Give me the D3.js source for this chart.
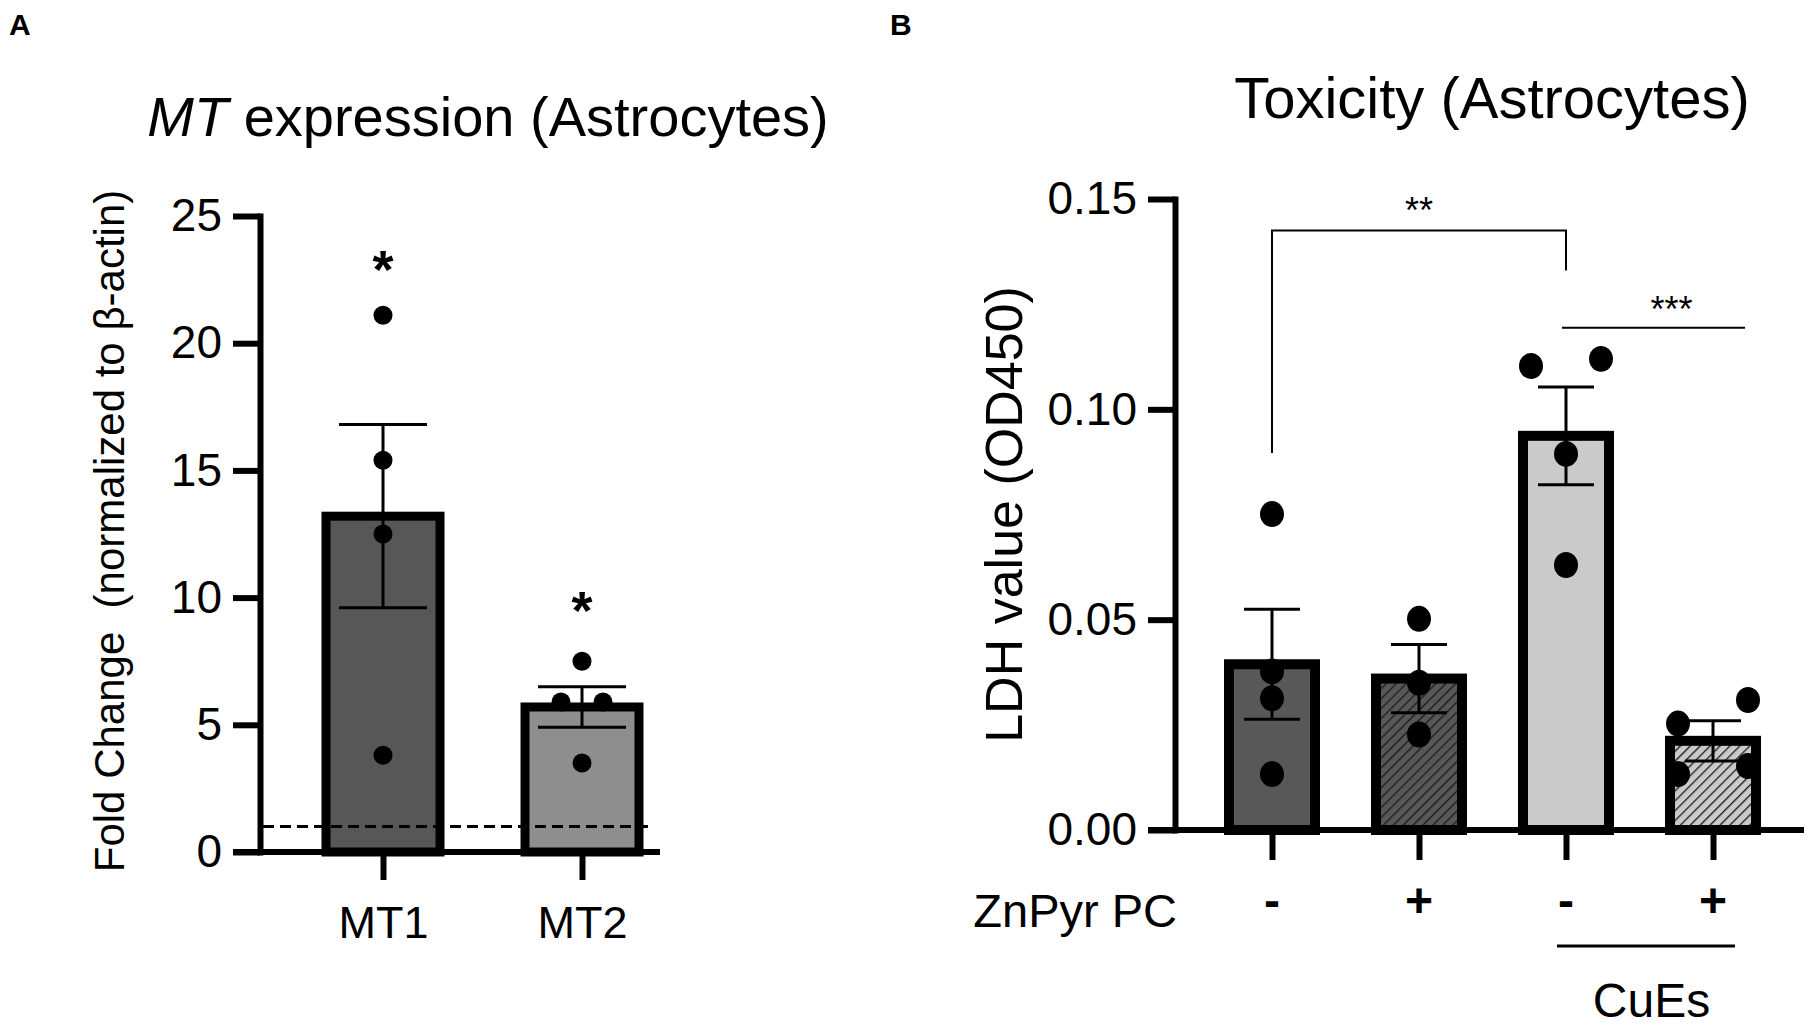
<!DOCTYPE html>
<html>
<head>
<meta charset="utf-8">
<script src="https://cdn.jsdelivr.net/npm/d3@7"></script>
<style>
  html, body { margin: 0; padding: 0; background: #fff; }
  svg { display: block; }
</style>
</head>
<body>
<svg id="chart" width="1813" height="1026"></svg>
<script>
// Panel A: MT expression in astrocytes
const mtCategories = ['MT1', 'MT2'];
const mtMeans = [13.2, 5.7];
const mtSem = [3.6, 0.8];
const mtPoints = [
  [21.1, 15.4, 12.5, 3.8],
  [7.5, 5.9, 5.9, 3.5],
];
const mtFills = ['#575757', '#8e8e8e'];
const mtStars = ['*', '*'];
const mtStarValues = [23.4, 10.0];
const mtTicks = [0, 5, 10, 15, 20, 25];
const mtBaseline = 1;

// Panel B: LDH toxicity
const ldhGroups = ['ctrl', 'znpyr', 'cues', 'cues+znpyr'];
const ldhMeans = [0.0394, 0.036, 0.0937, 0.0212];
const ldhSem = [0.0131, 0.0081, 0.0116, 0.0048];
const ldhPoints = [
  [0.0751, 0.0377, 0.0313, 0.0133],
  [0.0502, 0.035, 0.0227],
  [0.1103, 0.112, 0.0894, 0.063],
  [0.0253, 0.0309, 0.0133, 0.0152],
];
const ldhFills = ['#585858', '#585858', '#cacaca', '#cacaca'];
const ldhHatched = [false, true, false, true];
const ldhTicks = [0, 0.05, 0.10, 0.15];
const znpyrSigns = ['-', '+', '-', '+'];
const cuesGroups = ['cues', 'cues+znpyr'];

// significance annotations
const bracketStars = '**';
const bracketTop = 0.1425;
const bracketLegs = [0.0896, 0.133];
const bracketStarValue = 0.1491;
const lineStars = '***';
const lineValue = 0.1194;
const lineStarValue = 0.1257;

const FONT = '"Liberation Sans", Arial, Helvetica, sans-serif';
const svg = d3.select('#chart').attr('font-family', FONT);

const defs = svg.append('defs');
ldhFills.forEach((fill, i) => {
  const p = defs.append('pattern')
    .attr('id', `hatch${i}`)
    .attr('patternUnits', 'userSpaceOnUse')
    .attr('width', 7).attr('height', 7)
    .attr('patternTransform', 'rotate(45)');
  p.append('rect').attr('width', 7).attr('height', 7).attr('fill', fill);
  p.append('line').attr('x1', 0).attr('y1', 0).attr('x2', 0).attr('y2', 7)
    .attr('stroke', '#1a1a1a').attr('stroke-width', 2.6);
});

// spread points with nearly equal values side by side, lower one left
function spread(values, y, minGap, offset) {
  const idx = values.map((v, i) => i).sort((a, b) => values[a] - values[b]);
  const dx = values.map(() => 0);
  let group = [idx[0]];
  const flush = () => {
    const n = group.length;
    group.forEach((k, j) => { dx[k] = (j - (n - 1) / 2) * offset; });
  };
  for (let i = 1; i < idx.length; i++) {
    const last = group[group.length - 1];
    if (Math.abs(y(values[idx[i]]) - y(values[last])) < minGap) group.push(idx[i]);
    else { flush(); group = [idx[i]]; }
  }
  flush();
  return dx;
}

function styleAxis(g, size) {
  g.attr('font-size', size).attr('font-family', FONT);
  g.selectAll('line, path').attr('stroke', '#000').attr('stroke-width', 6);
  g.select('.domain').attr('stroke-linecap', 'square');
}

function drawBars(g, cats, means, sem, points, x, y, opts) {
  cats.forEach((c, i) => {
    const cx = x(c);
    g.append('rect')
      .attr('x', cx - opts.barW / 2)
      .attr('y', y(means[i]))
      .attr('width', opts.barW)
      .attr('height', y(0) - y(means[i]))
      .attr('fill', opts.fill(i))
      .attr('stroke', '#000')
      .attr('stroke-width', opts.border);

    // error bar (mean +/- SEM)
    const eb = g.append('g').attr('stroke', '#000').attr('stroke-width', 3);
    eb.append('line').attr('x1', cx).attr('x2', cx)
      .attr('y1', y(means[i] + sem[i])).attr('y2', y(means[i] - sem[i]));
    [means[i] + sem[i], means[i] - sem[i]].forEach((v) => {
      eb.append('line').attr('x1', cx - opts.capW / 2).attr('x2', cx + opts.capW / 2)
        .attr('y1', y(v)).attr('y2', y(v));
    });

    const dx = spread(points[i], y, opts.minGap, opts.offset);
    g.append('g').selectAll('ellipse')
      .data(points[i])
      .join('ellipse')
      .attr('cx', (d, j) => cx + dx[j])
      .attr('cy', (d) => y(d))
      .attr('rx', opts.r)
      .attr('ry', opts.r * opts.squash)
      .attr('fill', '#000');
  });
}

// ---------- Panel A ----------
const yA = d3.scaleLinear().domain([0, 25]).range([852, 216]);
const xA = d3.scalePoint().domain(mtCategories).range([383, 582]);
const axisAX = 260;
const gA = svg.append('g');

gA.append('text').attr('x', 9).attr('y', 35)
  .attr('font-size', 30).attr('font-weight', 'bold').text('A');

const titleA = gA.append('text').attr('x', 488).attr('y', 136)
  .attr('text-anchor', 'middle').attr('font-size', 56);
titleA.append('tspan').attr('font-style', 'italic').text('MT');
titleA.append('tspan').text(' expression (Astrocytes)');

gA.append('text')
  .attr('transform', 'translate(124,531) rotate(-90)')
  .attr('text-anchor', 'middle').attr('font-size', 42)
  .attr('xml:space', 'preserve')
  .text('Fold Change  (normalized to \u03b2-actin)');

gA.append('g')
  .attr('transform', `translate(${axisAX},0)`)
  .call(d3.axisLeft(yA).tickValues(mtTicks).tickSize(27).tickSizeOuter(0).tickPadding(11))
  .call(styleAxis, 46);

gA.append('g')
  .attr('transform', `translate(0,${yA(0)})`)
  .call(d3.axisBottom(xA).tickSize(28).tickSizeOuter(0).tickPadding(26))
  .call(styleAxis, 45)
  .call((g) => g.select('.domain').remove());

drawBars(gA, mtCategories, mtMeans, mtSem, mtPoints, xA, yA, {
  barW: 114, border: 9, capW: 88, r: 9.5, squash: 1.0,
  minGap: 19, offset: 42, fill: (i) => mtFills[i],
});

gA.append('line')
  .attr('x1', axisAX - 27).attr('x2', 660)
  .attr('y1', yA(0)).attr('y2', yA(0))
  .attr('stroke', '#000').attr('stroke-width', 6);

gA.append('line')
  .attr('x1', axisAX + 3).attr('x2', 654)
  .attr('y1', yA(mtBaseline)).attr('y2', yA(mtBaseline))
  .attr('stroke', '#000').attr('stroke-width', 3)
  .attr('stroke-dasharray', '11 6');

mtCategories.forEach((c, i) => {
  gA.append('text')
    .attr('x', xA(c)).attr('y', yA(mtStarValues[i]) + 0.575 * 54)
    .attr('text-anchor', 'middle').attr('font-size', 54).attr('font-weight', 'bold')
    .text(mtStars[i]);
});

// ---------- Panel B ----------
const yB = d3.scaleLinear().domain([0, 0.15]).range([830, 199]);
const xB = d3.scalePoint().domain(ldhGroups).range([1272, 1713]);
const axisBX = 1175;
const gB = svg.append('g');

gB.append('text').attr('x', 890).attr('y', 35)
  .attr('font-size', 30).attr('font-weight', 'bold').text('B');

gB.append('text').attr('x', 1492).attr('y', 118)
  .attr('text-anchor', 'middle').attr('font-size', 58)
  .text('Toxicity (Astrocytes)');

gB.append('text')
  .attr('transform', `translate(1022,${(yB(0) + yB(0.15)) / 2}) rotate(-90)`)
  .attr('text-anchor', 'middle').attr('font-size', 52)
  .text('LDH value (OD450)');

gB.append('g')
  .attr('transform', `translate(${axisBX},0)`)
  .call(d3.axisLeft(yB).tickValues(ldhTicks).tickFormat(d3.format('.2f'))
    .tickSize(27).tickSizeOuter(0).tickPadding(11))
  .call(styleAxis, 46);

gB.append('g')
  .attr('transform', `translate(0,${yB(0)})`)
  .call(d3.axisBottom(xB).tickSize(30).tickSizeOuter(0).tickFormat(''))
  .call(styleAxis, 46)
  .call((g) => g.select('.domain').remove());

drawBars(gB, ldhGroups, ldhMeans, ldhSem, ldhPoints, xB, yB, {
  barW: 86, border: 10, capW: 56, r: 12, squash: 1.08,
  minGap: 25, offset: 70,
  fill: (i) => (ldhHatched[i] ? `url(#hatch${i})` : ldhFills[i]),
});

gB.append('line')
  .attr('x1', axisBX - 27).attr('x2', 1804)
  .attr('y1', yB(0)).attr('y2', yB(0))
  .attr('stroke', '#000').attr('stroke-width', 6);

// ** bracket between control and CuEs
const bx1 = xB(ldhGroups[0]);
const bx2 = xB(ldhGroups[2]);
gB.append('path')
  .attr('d', `M${bx1},${yB(bracketLegs[0])}V${yB(bracketTop)}H${bx2}V${yB(bracketLegs[1])}`)
  .attr('fill', 'none').attr('stroke', '#000').attr('stroke-width', 2);
gB.append('text')
  .attr('x', (bx1 + bx2) / 2).attr('y', yB(bracketStarValue) + 0.575 * 36)
  .attr('text-anchor', 'middle').attr('font-size', 36).text(bracketStars);

// *** line between CuEs and CuEs + ZnPyr PC
const lx1 = xB(ldhGroups[2]) - 4;
const lx2 = xB(ldhGroups[3]) + 32;
gB.append('line')
  .attr('x1', lx1).attr('x2', lx2)
  .attr('y1', yB(lineValue)).attr('y2', yB(lineValue))
  .attr('stroke', '#000').attr('stroke-width', 2);
gB.append('text')
  .attr('x', (lx1 + lx2) / 2 + 18).attr('y', yB(lineStarValue) + 0.575 * 36)
  .attr('text-anchor', 'middle').attr('font-size', 36).text(lineStars);

// treatment rows under the axis
gB.append('text').attr('x', 1177).attr('y', 927)
  .attr('text-anchor', 'end').attr('font-size', 47).text('ZnPyr PC');

ldhGroups.forEach((c, i) => {
  gB.append('text')
    .attr('x', xB(c)).attr('y', 917)
    .attr('text-anchor', 'middle').attr('font-size', 48).attr('font-weight', 'bold')
    .text(znpyrSigns[i]);
});

gB.append('line')
  .attr('x1', xB(cuesGroups[0]) - 9).attr('x2', xB(cuesGroups[1]) + 22)
  .attr('y1', 946).attr('y2', 946)
  .attr('stroke', '#000').attr('stroke-width', 3);
gB.append('text')
  .attr('x', (xB(cuesGroups[0]) + xB(cuesGroups[1])) / 2 + 12).attr('y', 1017)
  .attr('text-anchor', 'middle').attr('font-size', 48).text('CuEs');
</script>
</body>
</html>
